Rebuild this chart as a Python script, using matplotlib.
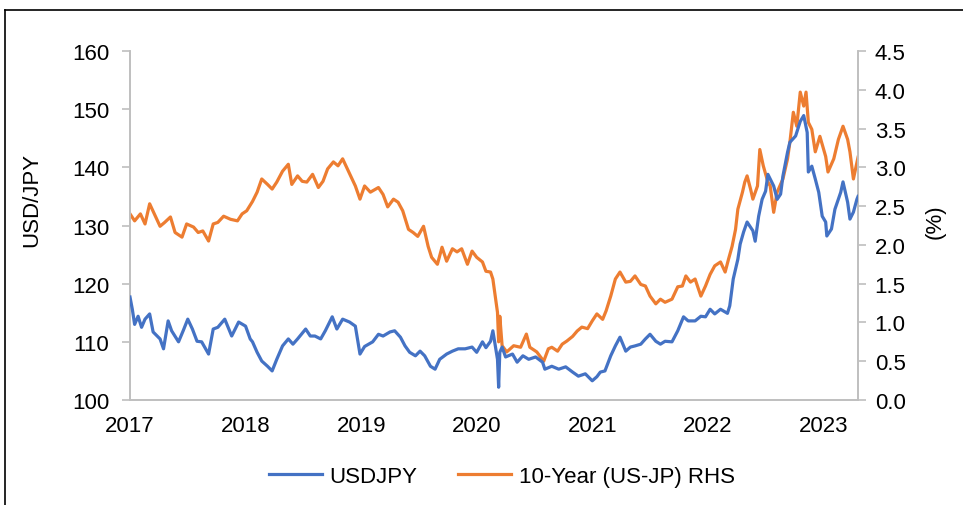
import matplotlib.pyplot as plt
from matplotlib.lines import Line2D

plt.rcParams["font.family"] = ["Liberation Sans", "DejaVu Sans"]

# USDJPY (LHS), time as decimal year
usdjpy_t = [2017.00, 2017.02, 2017.04, 2017.07, 2017.10, 2017.13, 2017.17, 2017.20, 2017.26, 2017.29,
            2017.33, 2017.36, 2017.42, 2017.46, 2017.50, 2017.54, 2017.58, 2017.62, 2017.68, 2017.72,
            2017.76, 2017.82, 2017.88, 2017.94, 2018.00, 2018.04, 2018.06, 2018.10, 2018.14, 2018.19,
            2018.23, 2018.27, 2018.32, 2018.37, 2018.41, 2018.45, 2018.52, 2018.56, 2018.60, 2018.65,
            2018.69, 2018.75, 2018.79, 2018.84, 2018.90, 2018.95, 2018.99, 2019.03, 2019.10, 2019.15,
            2019.19, 2019.25, 2019.29, 2019.34, 2019.38, 2019.42, 2019.47, 2019.51, 2019.55, 2019.60,
            2019.64, 2019.68, 2019.74, 2019.79, 2019.84, 2019.90, 2019.96, 2020.00, 2020.05, 2020.08,
            2020.12, 2020.14, 2020.18, 2020.19, 2020.20, 2020.22, 2020.25, 2020.31, 2020.35, 2020.40,
            2020.45, 2020.51, 2020.57, 2020.59, 2020.65, 2020.71, 2020.77, 2020.83, 2020.88, 2020.94,
            2021.00, 2021.04, 2021.07, 2021.11, 2021.16, 2021.20, 2021.24, 2021.29, 2021.33, 2021.37,
            2021.42, 2021.46, 2021.50, 2021.55, 2021.59, 2021.63, 2021.69, 2021.74, 2021.79, 2021.83,
            2021.89, 2021.94, 2021.98, 2022.02, 2022.06, 2022.11, 2022.17, 2022.19, 2022.22, 2022.26,
            2022.28, 2022.31, 2022.34, 2022.39, 2022.41, 2022.44, 2022.47, 2022.50, 2022.52, 2022.57,
            2022.60, 2022.63, 2022.65, 2022.69, 2022.71, 2022.76, 2022.80, 2022.83, 2022.86, 2022.87,
            2022.90, 2022.93, 2022.96, 2022.99, 2023.02, 2023.03, 2023.07, 2023.10, 2023.15, 2023.17,
            2023.21, 2023.23, 2023.26, 2023.29, 2023.30]
usdjpy = [117.7, 115.6, 113.0, 114.4, 112.5, 113.9, 114.8, 111.7, 110.5, 108.8,
          113.6, 111.9, 110.0, 111.9, 113.9, 112.2, 110.1, 110.0, 107.9, 112.2,
          112.5, 113.9, 111.0, 113.4, 112.7, 110.5, 110.0, 108.2, 106.7, 105.8,
          105.0, 107.0, 109.3, 110.5, 109.6, 110.5, 112.2, 111.0, 111.0, 110.5,
          111.9, 114.3, 112.2, 113.9, 113.4, 112.7, 107.9, 109.2, 110.0, 111.3,
          111.0, 111.7, 111.9, 110.8, 109.3, 108.2, 107.6, 108.4, 107.6, 105.8,
          105.3, 107.0, 107.9, 108.4, 108.8, 108.8, 109.1, 108.2, 110.0, 109.0,
          110.1, 111.9, 107.0, 102.2, 108.2, 109.1, 107.4, 107.9, 106.5, 107.6,
          107.0, 107.4, 106.5, 105.3, 105.8, 105.3, 105.7, 104.8, 104.1, 104.5,
          103.3, 104.0, 104.8, 105.0, 107.6, 109.3, 110.8, 108.4, 109.1, 109.3,
          109.6, 110.5, 111.3, 110.1, 109.6, 110.1, 110.0, 111.9, 114.3, 113.6,
          113.6, 114.4, 114.3, 115.6, 114.8, 115.6, 114.9, 116.2, 120.8, 124.2,
          126.8, 128.9, 130.6, 129.1, 127.3, 131.6, 134.5, 135.9, 138.8, 136.8,
          134.5, 135.4, 138.5, 142.6, 144.3, 145.4, 147.9, 148.9, 146.0, 139.2,
          140.2, 138.0, 135.7, 131.6, 130.6, 128.2, 129.4, 132.8, 135.7, 137.5,
          134.0, 131.1, 132.3, 134.5, 135.0]

# 10-year yield spread US-JP (RHS, %)
spread_t = [2017.00, 2017.04, 2017.09, 2017.13, 2017.17, 2017.22, 2017.26, 2017.30, 2017.35, 2017.39,
            2017.45, 2017.49, 2017.55, 2017.59, 2017.63, 2017.68, 2017.72, 2017.76, 2017.81, 2017.87,
            2017.93, 2017.97, 2018.01, 2018.06, 2018.10, 2018.14, 2018.19, 2018.23, 2018.27, 2018.32,
            2018.37, 2018.40, 2018.45, 2018.49, 2018.53, 2018.58, 2018.63, 2018.67, 2018.71, 2018.76,
            2018.80, 2018.84, 2018.89, 2018.95, 2018.99, 2019.03, 2019.08, 2019.15, 2019.19, 2019.23,
            2019.28, 2019.32, 2019.36, 2019.41, 2019.45, 2019.49, 2019.54, 2019.58, 2019.61, 2019.66,
            2019.70, 2019.74, 2019.79, 2019.83, 2019.87, 2019.92, 2019.96, 2020.00, 2020.05, 2020.08,
            2020.12, 2020.14, 2020.18, 2020.19, 2020.20, 2020.22, 2020.26, 2020.32, 2020.38, 2020.43,
            2020.46, 2020.52, 2020.58, 2020.62, 2020.65, 2020.70, 2020.74, 2020.78, 2020.83, 2020.87,
            2020.91, 2020.96, 2021.00, 2021.04, 2021.09, 2021.12, 2021.16, 2021.20, 2021.24, 2021.29,
            2021.33, 2021.37, 2021.42, 2021.46, 2021.50, 2021.55, 2021.59, 2021.63, 2021.69, 2021.74,
            2021.78, 2021.81, 2021.85, 2021.89, 2021.94, 2021.98, 2022.02, 2022.06, 2022.11, 2022.15,
            2022.18, 2022.21, 2022.24, 2022.26, 2022.30, 2022.32, 2022.34, 2022.37, 2022.39, 2022.43,
            2022.45, 2022.48, 2022.52, 2022.54, 2022.57, 2022.60, 2022.65, 2022.69, 2022.71, 2022.74,
            2022.77, 2022.80, 2022.83, 2022.85, 2022.87, 2022.90, 2022.93, 2022.97, 2023.02, 2023.04,
            2023.09, 2023.13, 2023.17, 2023.21, 2023.23, 2023.26, 2023.30]
spread = [2.40, 2.31, 2.40, 2.27, 2.53, 2.37, 2.24, 2.29, 2.36, 2.16,
          2.10, 2.27, 2.23, 2.16, 2.18, 2.05, 2.27, 2.29, 2.37, 2.33,
          2.31, 2.40, 2.44, 2.56, 2.68, 2.85, 2.78, 2.72, 2.81, 2.95,
          3.04, 2.78, 2.89, 2.82, 2.81, 2.91, 2.74, 2.82, 2.98, 3.07,
          3.02, 3.11, 2.95, 2.76, 2.59, 2.76, 2.68, 2.74, 2.65, 2.49,
          2.59, 2.55, 2.44, 2.20, 2.16, 2.11, 2.24, 1.98, 1.84, 1.75,
          1.97, 1.79, 1.95, 1.91, 1.95, 1.75, 1.92, 1.84, 1.78, 1.66,
          1.65, 1.56, 1.13, 0.75, 1.08, 0.70, 0.62, 0.70, 0.68, 0.85,
          0.68, 0.62, 0.50, 0.66, 0.68, 0.63, 0.72, 0.76, 0.82, 0.89,
          0.94, 0.92, 1.02, 1.11, 1.04, 1.15, 1.34, 1.56, 1.65, 1.52,
          1.53, 1.60, 1.49, 1.47, 1.34, 1.24, 1.30, 1.26, 1.30, 1.46,
          1.47, 1.60, 1.52, 1.56, 1.34, 1.47, 1.62, 1.73, 1.78, 1.65,
          1.82, 1.98, 2.20, 2.46, 2.68, 2.81, 2.89, 2.72, 2.59, 2.76,
          3.23, 3.02, 2.81, 2.76, 2.42, 2.68, 2.85, 3.11, 3.32, 3.71,
          3.53, 3.97, 3.79, 3.97, 3.58, 3.49, 3.20, 3.40, 3.14, 2.94,
          3.11, 3.36, 3.53, 3.36, 3.20, 2.85, 3.13]

year_ticks = [2017, 2018, 2019, 2020, 2021, 2022, 2023]
blue = "#4472C4"
orange = "#ED7D31"
grey = "#BFBFBF"
fs = 16

fig = plt.figure(figsize=(9.63, 5.06), dpi=100)
ax = fig.add_axes([0.135, 0.2075, 0.756, 0.6897])
ax2 = ax.twinx()

ax.plot(usdjpy_t, usdjpy, color=blue, lw=2.3, zorder=3)
ax2.plot(spread_t, spread, color=orange, lw=2.3, zorder=2)
ax.set_zorder(ax2.get_zorder() + 1)
ax.patch.set_visible(False)

ax.set_xlim(2017.0, 2023.30)
ax.set_ylim(100, 160)
ax2.set_ylim(0, 4.5)
ax.set_yticks(range(100, 161, 10))
ax2.set_yticks([i * 0.5 for i in range(10)])
ax2.set_yticklabels([f"{i * 0.5:.1f}" for i in range(10)])
ax.set_xticks(year_ticks)
ax.set_xticklabels([str(y) for y in year_ticks])

for a in (ax, ax2):
    a.spines["top"].set_visible(False)
    for s in ("left", "right", "bottom"):
        a.spines[s].set_color(grey)
        a.spines[s].set_linewidth(1.2)
    a.tick_params(axis="y", colors=grey, labelcolor="black", labelsize=fs, length=6, width=1.2)
ax.tick_params(axis="y", pad=9)
ax2.tick_params(axis="y", pad=6)
ax.tick_params(axis="x", length=0, labelsize=fs, pad=11)
ax.set_ylabel("USD/JPY", fontsize=fs)
ax.yaxis.set_label_coords(-0.121, 0.576)
ax2.set_ylabel("(%)", fontsize=fs)
ax2.yaxis.set_label_coords(1.092, 0.513)

handles = [Line2D([], [], color=blue, lw=2.3), Line2D([], [], color=orange, lw=2.3)]
fig.legend(handles, ["USDJPY", "10-Year (US-JP) RHS"], loc="center", bbox_to_anchor=(0.521, 0.057),
           ncol=2, frameon=False, fontsize=fs, handlelength=2.4, columnspacing=1.8, handletextpad=0.35)

# outer frame (left and top edges of the exhibit box)
fig.add_artist(Line2D([0.0055, 0.0055], [0.0, 0.978], color="black", lw=1.2, transform=fig.transFigure))
fig.add_artist(Line2D([0.0055, 1.0], [0.978, 0.978], color="black", lw=1.2, transform=fig.transFigure))

fig.savefig("out.png", dpi=100)
